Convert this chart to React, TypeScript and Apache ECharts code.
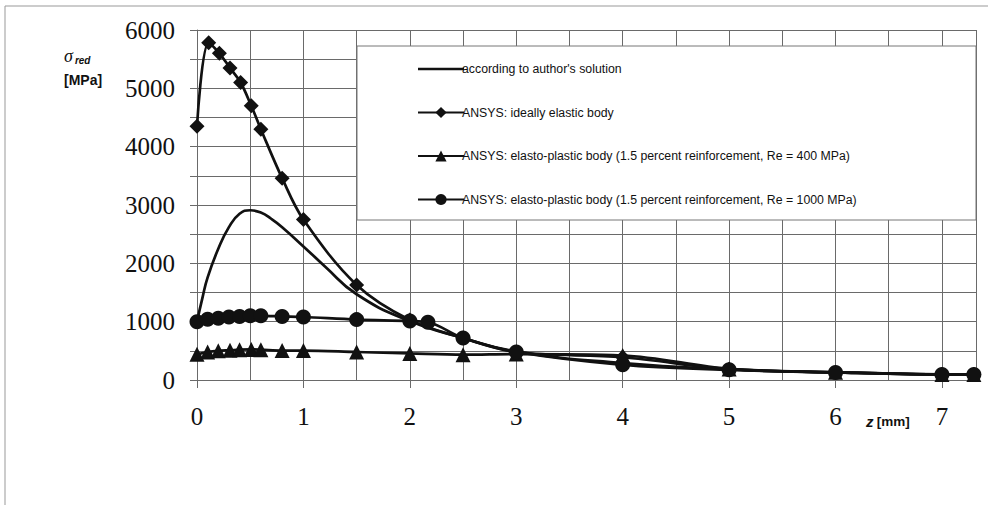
import React, { useEffect, useRef } from "react";
import * as echarts from "echarts";

// z [mm] positions and sigma_red [MPa] values
const authorZ = [0, 0.05, 0.1, 0.2, 0.3, 0.4, 0.5, 0.6, 0.7, 0.8, 1.0, 1.2, 1.5, 2.0, 2.5, 3.0, 4.0, 5.0, 6.0, 7.0, 7.3];
const authorV = [1000, 1400, 1760, 2250, 2620, 2850, 2910, 2870, 2760, 2620, 2290, 1950, 1470, 1010, 720, 490, 290, 185, 130, 95, 92];

const elasticZ = [0, 0.11, 0.21, 0.31, 0.41, 0.51, 0.6, 0.8, 1.0, 1.5, 2.0, 2.5, 3.0, 4.0, 5.0, 6.0, 7.0, 7.3];
const elasticV = [4350, 5780, 5600, 5350, 5100, 4700, 4300, 3460, 2750, 1630, 1030, 720, 480, 390, 185, 130, 95, 95];

const re400Z = [0, 0.1, 0.2, 0.31, 0.4, 0.51, 0.6, 0.8, 1.0, 1.5, 2.0, 2.5, 3.0, 4.0, 5.0, 6.0, 7.0, 7.3];
const re400V = [440, 480, 500, 510, 520, 525, 520, 505, 505, 480, 455, 435, 445, 420, 190, 135, 95, 95];

const re1000Z = [0, 0.1, 0.2, 0.3, 0.4, 0.5, 0.6, 0.8, 1.0, 1.5, 2.0, 2.17, 2.5, 3.0, 4.0, 5.0, 6.0, 7.0, 7.3];
const re1000V = [1000, 1040, 1060, 1080, 1090, 1100, 1100, 1090, 1080, 1035, 1010, 990, 720, 480, 260, 175, 130, 95, 95];

const seriesNames = [
  "according to author's solution",
  "ANSYS: ideally elastic body",
  "ANSYS: elasto-plastic body (1.5 percent reinforcement, Re = 400 MPa)",
  "ANSYS: elasto-plastic body (1.5 percent reinforcement, Re = 1000 MPa)",
];

const xTickValues = [0, 1, 2, 3, 4, 5, 6, 7];
const xMax = 7.32;
const yMax = 6000;

const pairs = (zs: number[], vs: number[]) => zs.map((z, i) => [z, vs[i]]);

export default function App() {
  const ref = useRef<HTMLDivElement>(null);
  useEffect(() => {
    if (!ref.current) return;
    const chart = echarts.init(ref.current, undefined, { renderer: "svg" });
    const gridColor = "#6a6a6a";
    const lineStyle = { color: "#111", width: 2.7 };
    const common = {
      type: "line" as const,
      smooth: 0.35,
      lineStyle,
      itemStyle: { color: "#111" },
      xAxisIndex: 0,
      yAxisIndex: 0,
    };
    chart.setOption({
      animation: false,
      backgroundColor: "#fff",
      textStyle: { fontFamily: "Liberation Sans" },
      grid: { left: 197, right: 12, top: 30, bottom: 125, containLabel: false },
      xAxis: [
        {
          type: "value",
          min: 0,
          max: xMax,
          interval: 0.5,
          axisLine: { show: true, lineStyle: { color: gridColor, width: 1 } },
          axisTick: { show: false },
          splitLine: { show: true, lineStyle: { color: gridColor, width: 1 } },
          axisLabel: {
            margin: 24,
            fontFamily: "Liberation Serif",
            fontSize: 25,
            color: "#111",
            formatter: (v: number) => (Math.abs(v - Math.round(v)) < 1e-6 ? String(Math.round(v)) : ""),
          },
        },
        {
          type: "value",
          min: 0,
          max: xMax,
          interval: 1,
          position: "bottom",
          axisLine: { show: false },
          axisTick: { show: true, length: 8, lineStyle: { color: gridColor }, customValues: xTickValues },
          splitLine: { show: false },
          axisLabel: { show: false },
        },
      ],
      yAxis: {
        type: "value",
        min: 0,
        max: yMax,
        interval: 500,
        axisLine: { show: true, lineStyle: { color: gridColor, width: 1 } },
        axisTick: { show: true, length: 7, lineStyle: { color: gridColor } },
        splitLine: { show: true, lineStyle: { color: gridColor, width: 1 } },
        axisLabel: {
          margin: 22,
          fontFamily: "Liberation Serif",
          fontSize: 25,
          color: "#111",
          formatter: (v: number) => (v % 1000 === 0 ? String(v) : ""),
        },
      },
      legend: {
        orient: "vertical",
        left: 412,
        top: 58,
        itemWidth: 46,
        itemHeight: 14,
        itemGap: 31.5,
        textStyle: { fontFamily: "Liberation Sans", fontSize: 12.3, color: "#111", padding: [0, 0, 0, -7] },
        data: [
          { name: seriesNames[0], icon: "path://M0,0L46,0L46,2.7L0,2.7Z" },
          { name: seriesNames[1] },
          { name: seriesNames[2] },
          { name: seriesNames[3] },
        ],
        z: 5,
      },
      graphic: [
        {
          type: "rect",
          z: 4,
          shape: { x: 357, y: 46, width: 619, height: 174 },
          style: { fill: "#fff", stroke: "#777", lineWidth: 1 },
        },
        { type: "line", shape: { x1: 5, y1: 6, x2: 988, y2: 6 }, style: { stroke: "#999", lineWidth: 1 } },
        { type: "line", shape: { x1: 5, y1: 6, x2: 5, y2: 505 }, style: { stroke: "#999", lineWidth: 1 } },
        {
          type: "text",
          left: 64,
          top: 47,
          style: {
            text: "{s|σ}{sub|red}",
            rich: {
              s: { fontFamily: "Liberation Serif", fontStyle: "italic", fontSize: 18, fill: "#111" },
              sub: { fontFamily: "Liberation Sans", fontStyle: "italic", fontWeight: "bold", fontSize: 10, fill: "#111", padding: [8, 0, 0, 2] },
            },
          },
        },
        {
          type: "text",
          left: 64,
          top: 73,
          style: { text: "[MPa]", fontFamily: "Liberation Sans", fontWeight: "bold", fontSize: 14, fill: "#111" },
        },
        {
          type: "text",
          left: 866,
          top: 414,
          style: {
            text: "{z|z} {u|[mm]}",
            rich: {
              z: { fontFamily: "Liberation Sans", fontStyle: "italic", fontWeight: "bold", fontSize: 15, fill: "#111" },
              u: { fontFamily: "Liberation Sans", fontWeight: "bold", fontSize: 13.5, fill: "#111" },
            },
          },
        },
      ],
      series: [
        {
          ...common,
          name: seriesNames[0],
          data: pairs(authorZ, authorV),
          showSymbol: false,
          symbol: "none",
          smooth: 0.5,
        },
        {
          ...common,
          name: seriesNames[1],
          data: pairs(elasticZ, elasticV),
          symbol: "diamond",
          symbolSize: 15,
        },
        {
          ...common,
          name: seriesNames[2],
          data: pairs(re400Z, re400V),
          symbol: "triangle",
          symbolSize: 15,
        },
        {
          ...common,
          name: seriesNames[3],
          data: pairs(re1000Z, re1000V),
          symbol: "circle",
          symbolSize: 15,
        },
      ],
    });
    return () => chart.dispose();
  }, []);
  return <div ref={ref} style={{ position: "fixed", left: 0, top: 0, width: 988, height: 505 }} />;
}
